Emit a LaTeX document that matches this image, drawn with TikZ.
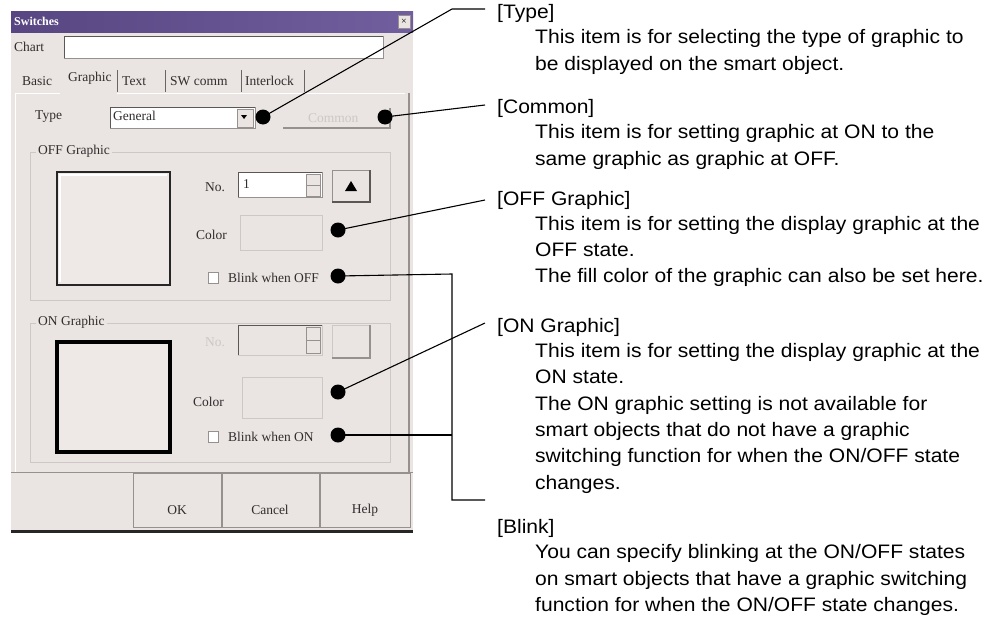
\documentclass[tikz,border=0pt]{standalone}
\usepackage{fontspec}
\setmainfont{Liberation Sans}
\newfontfamily\dlgfont{Liberation Serif}
\newfontfamily\descfont{Liberation Sans}[FakeStretch=1.08]
\definecolor{dlgbg}{RGB}{234,229,226}
\definecolor{titleL}{RGB}{88,70,130}
\definecolor{titleR}{RGB}{112,94,158}
\definecolor{dlgtext}{RGB}{50,45,45}
\definecolor{shadow}{RGB}{150,145,142}
\definecolor{faint}{RGB}{205,200,197}
\definecolor{prevbg}{RGB}{238,233,231}
\tikzset{
  desc/.style={anchor=base west, inner sep=0pt, font=\descfont\fontsize{19.5}{24}\selectfont},
  lbl/.style={anchor=west, inner sep=0pt, text=dlgtext, font=\dlgfont\fontsize{13.5}{14}\selectfont},
  dot/.style={circle, fill=black, inner sep=0pt, minimum size=15pt},
  conn/.style={draw=black, line width=1.1pt},
  sunken/.style={fill=white, draw=shadow, line width=0.8pt},
  btn/.style={fill=dlgbg, draw=shadow, line width=0.8pt},
}
\begin{document}
\begin{tikzpicture}[x=1pt,y=-1pt]
\useasboundingbox (0,0) rectangle (998,616);
\fill[white] (0,0) rectangle (998,616);
% ---------------- dialog ----------------
\fill[dlgbg] (11,11) rectangle (413,533);
\shade[left color=titleL, right color=titleR] (11,11) rectangle (413,32);
\node[anchor=west, inner sep=0pt, text=white, font=\dlgfont\bfseries\fontsize{12}{12}\selectfont] (title) at (14,21.5) {Switches};
\node[btn, minimum width=12pt, minimum height=13pt, inner sep=0pt, font=\dlgfont\fontsize{10}{10}\selectfont] (close) at (404,21.5) {×};
% chart
\node[lbl] (chartlbl) at (14,47) {Chart};
\draw[sunken] (64,36) rectangle (383,58);
\draw[shadow!60!black, line width=1pt] (64,58) -- (64,36) -- (383,36);
% tabs
\node[lbl] (tbasic) at (22,81) {Basic};
\node[lbl] (tgraphic) at (68,78) {Graphic};
\node[lbl] (ttext) at (122,81) {Text};
\node[lbl] (tsw) at (170,81) {SW comm};
\node[lbl] (tinter) at (245,81) {Interlock};
\foreach \xx in {117,165,241,304}{\draw[shadow!70!black, line width=0.8pt] (\xx,70) -- (\xx,92);}
\draw[white, line width=1pt] (15,93) -- (60,93);
\draw[white, line width=1pt] (117,93) -- (405,93);
\draw[shadow, line width=2pt] (409,93) -- (409,472);
\draw[white, line width=1pt] (15,93) -- (15,472);
\draw[shadow, line width=1pt] (11,472) -- (413,472);
% type row
\node[lbl] (typelbl) at (35,117) {Type};
\draw[sunken] (110,107) rectangle (255,128);
\draw[shadow!60!black, line width=1pt] (110,128) -- (110,107) -- (255,107);
\node[lbl] (general) at (113,116) {General};
\draw[btn] (237,109) rectangle (253,127);
\fill[black] (241,115) -- (247,115) -- (244,119) -- cycle;
\draw[shadow, line width=1.2pt] (283,128) -- (390,128) -- (390,108);
\node[lbl, text=faint] (common) at (308,118) {Common};
% OFF group
\draw[faint, line width=0.8pt] (30,152) rectangle (390,300);
\node[lbl, fill=dlgbg, inner xsep=2pt] (offlbl) at (36,151) {OFF Graphic};
\fill[prevbg] (57,172) rectangle (170,285);
\draw[white, line width=1.5pt] (60,282) -- (60,175) -- (167,175);
\draw[black!85, line width=2pt] (57,172) rectangle (170,285);
\node[lbl] (nolbl) at (205,187) {No.};
\draw[sunken] (238,172) rectangle (322,197);
\draw[shadow!60!black, line width=1pt] (238,197) -- (238,172) -- (322,172);
\node[lbl] (noval) at (243,184) {1};
\draw[btn] (306,174) rectangle (320,185);
\draw[btn] (306,185) rectangle (320,196);
\draw[btn] (332,170) rectangle (370,202);
\draw[shadow!60!black, line width=1.2pt] (332,202) -- (370,202) -- (370,170);
\fill[black] (345,191) -- (357,191) -- (351,181) -- cycle;
\node[lbl] (colorlbl1) at (196,235) {Color};
\draw[faint, line width=0.8pt] (240,215) rectangle (322,250);
\draw[sunken] (208,272) rectangle (218,283);
\node[lbl] (blinkoff) at (228,278) {Blink when OFF};
% ON group
\draw[faint, line width=0.8pt] (30,323) rectangle (390,462);
\node[lbl, fill=dlgbg, inner xsep=2pt] (onlbl) at (36,322) {ON Graphic};
\fill[prevbg] (57,342) rectangle (170,452);
\draw[black, line width=4pt] (57,342) rectangle (170,452);
\node[lbl, text=faint] (nolbl2) at (205,342) {No.};
\draw[faint, line width=0.8pt] (238,325) rectangle (322,355);
\draw[shadow!60!black, line width=1pt] (238,355) -- (238,325) -- (322,325);
\draw[btn] (306,327) rectangle (320,340);
\draw[btn] (306,340) rectangle (320,353);
\draw[faint, line width=0.8pt] (332,325) rectangle (370,358);
\draw[shadow, line width=1.2pt] (332,358) -- (370,358) -- (370,325);
\node[lbl] (colorlbl2) at (193,402) {Color};
\draw[faint, line width=0.8pt] (242,377) rectangle (322,418);
\draw[sunken] (208,431) rectangle (218,442);
\node[lbl] (blinkon) at (228,437) {Blink when ON};
% buttons
\draw[btn] (133,473) rectangle (221,527);
\draw[btn] (222,473) rectangle (319,527);
\draw[btn] (320,473) rectangle (410,527);
\node[lbl, anchor=center] (okb) at (177,510) {OK};
\node[lbl, anchor=center] (cancelb) at (270,510) {Cancel};
\node[lbl, anchor=center] (helpb) at (365,510) {Help};
\draw[black!85, line width=3pt] (11,531) -- (413,531);
% ---------------- callout dots ----------------
\node[dot] (dType) at (263,117) {};
\node[dot] (dCommon) at (385,117) {};
\node[dot] (dOffColor) at (338,230) {};
\node[dot] (dOffBlink) at (338,276) {};
\node[dot] (dOnColor) at (338,392) {};
\node[dot] (dOnBlink) at (338,435) {};
% ---------------- descriptions ----------------
\node[desc] (hType) at (497,18) {[Type]};
\node[desc] (bType1) at (535,43) {This item is for selecting the type of graphic to};
\node[desc] (bType2) at (535,70) {be displayed on the smart object.};
\node[desc] (hCommon) at (497,113) {[Common]};
\node[desc] (bCommon1) at (535,138) {This item is for setting graphic at ON to the};
\node[desc] (bCommon2) at (535,165) {same graphic as graphic at OFF.};
\node[desc] (hOff) at (497,205) {[OFF Graphic]};
\node[desc] (bOff1) at (535,230) {This item is for setting the display graphic at the};
\node[desc] (bOff2) at (535,256) {OFF state.};
\node[desc] (bOff3) at (535,282) {The fill color of the graphic can also be set here.};
\node[desc] (hOn) at (497,332) {[ON Graphic]};
\node[desc] (bOn1) at (535,357) {This item is for setting the display graphic at the};
\node[desc] (bOn2) at (535,383) {ON state.};
\node[desc] (bOn3) at (535,410) {The ON graphic setting is not available for};
\node[desc] (bOn4) at (535,436) {smart objects that do not have a graphic};
\node[desc] (bOn5) at (535,462) {switching function for when the ON/OFF state};
\node[desc] (bOn6) at (535,489) {changes.};
\node[desc] (hBlink) at (497,533) {[Blink]};
\node[desc] (bBlink1) at (535,558) {You can specify blinking at the ON/OFF states};
\node[desc] (bBlink2) at (535,585) {on smart objects that have a graphic switching};
\node[desc] (bBlink3) at (535,611) {function for when the ON/OFF state changes.};
% ---------------- connectors ----------------
\coordinate (kType) at (452,9);
\coordinate (eType) at (485,9);
\coordinate (eCommon) at (485,105);
\coordinate (eOff) at (485,200);
\coordinate (eOn) at (485,323);
\coordinate (kBlinkTop) at (452,274);
\coordinate (kBlinkOn) at (452,435);
\coordinate (eBlink) at (485,500);
\draw[conn] (dType.center) -- (kType) -- (eType);
\draw[conn] (dCommon.center) -- (eCommon);
\draw[conn] (dOffColor.center) -- (eOff);
\draw[conn] (dOnColor.center) -- (eOn);
\draw[conn] (dOffBlink.center) -- (kBlinkTop) |- (eBlink);
\draw[conn] (dOnBlink.center) -- (kBlinkOn);
\end{tikzpicture}
\end{document}
